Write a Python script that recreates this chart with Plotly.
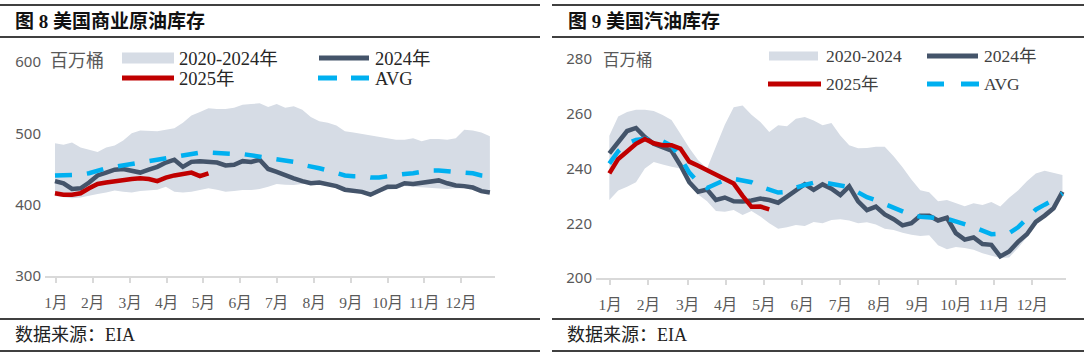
import plotly.graph_objects as go

W, H = 1084, 358

weeks = list(range(1, 53))
month_labels = ["1月", "2月", "3月", "4月", "5月", "6月", "7月", "8月", "9月", "10月", "11月", "12月"]
month_ticks = [1.1, 5.4, 9.8, 14.1, 18.4, 22.7, 27.0, 31.4, 35.7, 40.0, 44.3, 48.6]

# ---- 图8 美国商业原油库存 (百万桶) ----
crude_band_high = [486, 484, 487, 480, 477, 474, 480, 483, 490, 500, 504, 504, 503, 505, 507, 515,
                   525, 530, 535, 534, 534, 536, 540, 541, 542, 537, 541, 536, 538, 533, 523, 517,
                   515, 511, 503, 501, 499, 496, 494, 492, 491, 491, 493, 489, 492, 492, 491, 493,
                   505, 504, 501, 496]
crude_band_low = [412, 410, 409, 410, 413, 415, 417, 420, 418, 417, 419, 420.5, 421, 425, 418, 417,
                  418, 420.5, 423, 421, 418, 419, 420.6, 420.6, 422, 425, 429, 428, 427.6, 429, 430, 429,
                  426, 424, 419, 418, 416, 412, 416, 421, 422, 426, 425, 424, 423, 423, 422, 423,
                  423, 421, 417, 415]
crude_2024 = [433, 430, 422, 423, 431, 441, 445, 449, 450, 448, 445, 449, 453, 459, 463, 453,
              460, 461, 460, 459, 455, 456, 461, 460, 463, 450, 446, 441, 437, 433, 430, 431,
              428, 426, 421, 420, 418, 414, 419, 425, 425, 430, 429, 431, 433, 434, 430, 427,
              426, 424, 419, 417]
crude_2025 = [416, 414, 414, 416, 423, 429, 431, 433, 434, 436, 437, 436, 433, 438, 441, 443,
              445, 440, 444]
crude_avg = [441, 441, 442, 442, 444, 448, 451, 453, 455, 458, 460, 462, 464, 466, 468, 470,
             472, 473, 473, 472, 471, 471, 471, 469, 468, 465, 464, 462, 460, 456, 454, 451,
             448, 445, 441, 440, 440, 438, 438, 440, 442, 443, 444, 446, 448, 448, 447, 447,
             446, 444, 441, 440]
crude_yticks = [300, 400, 500, 600]

# ---- 图9 美国汽油库存 (百万桶) ----
gas_band_high = [252, 259, 260.6, 261.5, 261.5, 261, 259.5, 257.7, 252.7, 247.5, 243, 240, 248, 256,
                 262.4, 263, 259.6, 257, 253.3, 255.8, 255.4, 258.2, 258.8, 257.5, 255.8, 256.6,
                 252.1, 248.5, 247.4, 247.5, 247.9, 247.9, 244.5, 240.5, 236, 232.1, 231.3, 228,
                 228.5, 227.3, 226.2, 227.3, 226.7, 227.8, 226.1, 229.3, 232, 235.3, 238.2, 239.2,
                 238.3, 237.6]
gas_band_low = [228.5, 232, 233.3, 235, 240, 242.4, 241.5, 240.6, 240, 234, 230.5, 228, 224.5, 224.2,
                224.8, 223, 224.5, 222.5, 220, 218, 218.5, 219.4, 219, 220.5, 220, 221.2,
                221.5, 221, 220, 220.4, 219.5, 218, 217.5, 216.5, 215.8, 215.3, 215.6, 212,
                210.5, 211.3, 211, 210.3, 209, 208.2, 207.3, 207.5, 211, 215, 219.5, 222,
                225, 230.5]
gas_2024 = [245.5, 249.5, 253.7, 254.8, 251.5, 249, 247.8, 246.5, 241.2, 235, 231.5, 232.3, 228.5,
            229.4, 228, 227.9, 228.3, 229, 228.5, 227.5, 229.7, 232, 234.3, 232.2, 234.2, 232.6,
            230.3, 233.5, 228, 224.8, 226.1, 223.2, 221.5, 219.2, 220, 222.7, 222.7, 221, 222,
            216.4, 214, 214.8, 212.4, 212.1, 207.9, 209.7, 213.2, 216, 220.5, 222.8, 225.5, 231.5]
gas_2025 = [238.2, 243.5, 246.2, 249, 250.8, 249.2, 248.5, 248.5, 247.3, 242.5, 241, 239.4, 237.6,
            236.3, 234.5, 230, 226, 226.1, 225.1]
gas_avg = [241.8, 246.3, 249.1, 250.4, 250.9, 250.6, 250, 248.3, 244, 238.5, 235, 232.9, 234.2,
           235.8, 236.2, 235.8, 235, 233.4, 232.3, 231.2, 231.5, 233, 234, 234.8, 235, 234.5,
           233.8, 233.2, 231.3, 229.5, 228.4, 227, 225.7, 224.3, 223, 222.4, 222, 221.9, 221.7,
           220.8, 219.8, 218.6, 217.3, 216, 216.2, 216.4, 218.5, 222, 225, 226.8, 228.5, 230.9]
gas_yticks = [200, 220, 240, 260, 280]

BAND = "#D6DCE5"
C2024 = "#44546A"
C2025 = "#C00000"
CAVG = "#00B0F0"
SERIF = "Liberation Serif, Noto Sans CJK SC, serif"
SANS = "Noto Sans, Noto Sans CJK SC, sans-serif"


def px(x):
    return x / W


def py(y):
    return 1 - y / H


fig = go.Figure()


def add_panel(xa, ya, band_lo, band_hi, s2024, s2025, savg):
    fig.add_trace(go.Scatter(x=weeks, y=band_lo, mode="lines", line=dict(width=0, color=BAND),
                             xaxis=xa, yaxis=ya, showlegend=False, hoverinfo="skip"))
    fig.add_trace(go.Scatter(x=weeks, y=band_hi, mode="lines", line=dict(width=0, color=BAND),
                             fill="tonexty", fillcolor=BAND, xaxis=xa, yaxis=ya,
                             name="2020-2024", showlegend=False))
    fig.add_trace(go.Scatter(x=weeks, y=s2024, mode="lines", line=dict(width=4.5, color=C2024),
                             xaxis=xa, yaxis=ya, name="2024年", showlegend=False))
    fig.add_trace(go.Scatter(x=weeks, y=savg, mode="lines",
                             line=dict(width=4.5, color=CAVG, dash="17px,15px"),
                             xaxis=xa, yaxis=ya, name="AVG", showlegend=False))
    fig.add_trace(go.Scatter(x=weeks[:len(s2025)], y=s2025, mode="lines",
                             line=dict(width=4.5, color=C2025),
                             xaxis=xa, yaxis=ya, name="2025年", showlegend=False))


add_panel("x", "y", crude_band_low, crude_band_high, crude_2024, crude_2025, crude_avg)
add_panel("x2", "y2", gas_band_low, gas_band_high, gas_2024, gas_2025, gas_avg)

xcommon = dict(tickmode="array", tickvals=month_ticks, ticktext=month_labels,
               showline=True, linecolor="#D9D9D9", linewidth=2, ticks="outside",
               tickcolor="#D9D9D9", ticklen=5, tickwidth=1.5, showgrid=False, zeroline=False,
               tickfont=dict(family=SERIF, size=15.5, color="#595959"), ticklabelstandoff=6,
               automargin=False)
ycommon = dict(showgrid=False, zeroline=False, showline=False, ticks="",
               tickfont=dict(family=SANS, size=15, color="#595959"), ticklabelstandoff=3,
               automargin=False)

fig.update_layout(
    width=W, height=H, margin=dict(l=0, r=0, t=0, b=0, pad=0),
    paper_bgcolor="white", plot_bgcolor="white", showlegend=False,
    xaxis=dict(domain=[px(45), px(495)], range=[-0.17, 52.6], anchor="y", **xcommon),
    yaxis=dict(domain=[py(276), py(62)], range=[300, 600], tickvals=crude_yticks,
               anchor="x", **ycommon),
    xaxis2=dict(domain=[px(596), px(1066)], range=[-0.5, 52.4], anchor="y2", **xcommon),
    yaxis2=dict(domain=[py(278), py(59)], range=[200, 280], tickvals=gas_yticks,
                anchor="x2", **ycommon),
)

shapes = []
ann = []


def hline(x0, x1, y, color="#000000", width=1.5):
    shapes.append(dict(type="line", xref="paper", yref="paper", x0=px(x0), x1=px(x1),
                       y0=py(y), y1=py(y), line=dict(color=color, width=width)))


def text(x, y, s, size, color="#222222", family=SERIF, anchor="left", bold=False):
    ann.append(dict(xref="paper", yref="paper", x=px(x), y=py(y), text=("<b>%s</b>" % s) if bold else s,
                    showarrow=False, xanchor=anchor, yanchor="middle",
                    font=dict(family=family, size=size, color=color)))


# frame rules and titles
for (a, b) in [(0, 540), (552, 1084)]:
    hline(a, b, 5)
    hline(a, b, 37)
    hline(a, b, 319)
    hline(a, b, 351)

text(13, 22, "图 8 美国商业原油库存", 19, "#111111", bold=True)
text(566, 22, "图 9 美国汽油库存", 19, "#111111", bold=True)
text(13, 335, "数据来源：EIA", 18, "#222222")
text(565, 335, "数据来源：EIA", 18, "#222222")

# unit labels
text(48, 60, "百万桶", 18, "#595959", family=SANS)
text(601, 60, "百万桶", 16.5, "#595959", family=SANS)


def legend_rect(x0, x1, yc, h):
    shapes.append(dict(type="rect", xref="paper", yref="paper", x0=px(x0), x1=px(x1),
                       y0=py(yc + h / 2), y1=py(yc - h / 2), fillcolor=BAND, line=dict(width=0)))


def legend_line(x0, x1, yc, color, dash="solid"):
    shapes.append(dict(type="line", xref="paper", yref="paper", x0=px(x0), x1=px(x1),
                       y0=py(yc), y1=py(yc), line=dict(color=color, width=5, dash=dash)))


# left legend
legend_rect(122, 174, 58, 11)
text(177, 59, "2020-2024年", 18.5, "#262626")
legend_line(319, 369, 58, C2024)
text(373, 59, "2024年", 18.5, "#262626")
legend_line(122, 174, 78, C2025)
text(177, 79, "2025年", 18.5, "#262626")
legend_line(318, 337, 78, CAVG)
legend_line(351, 369, 78, CAVG)
text(373, 79, "AVG", 18.5, "#262626")

# right legend
legend_rect(769, 818, 56, 9)
text(824, 56, "2020-2024", 17.5, "#404040")
legend_line(927, 978, 56, C2024)
text(982, 56, "2024年", 17.5, "#404040")
legend_line(768, 821, 84, C2025)
text(824, 84, "2025年", 17.5, "#404040")
legend_line(927, 944, 84, CAVG)
legend_line(961, 979, 84, CAVG)
text(982, 84, "AVG", 17.5, "#404040")

fig.update_layout(shapes=shapes, annotations=ann)
fig.write_html(
    "out.html",
    config={"displayModeBar": False},
    post_script="document.documentElement.style.margin='0';document.body.style.margin='0';"
                "document.body.style.overflow='hidden';",
)
